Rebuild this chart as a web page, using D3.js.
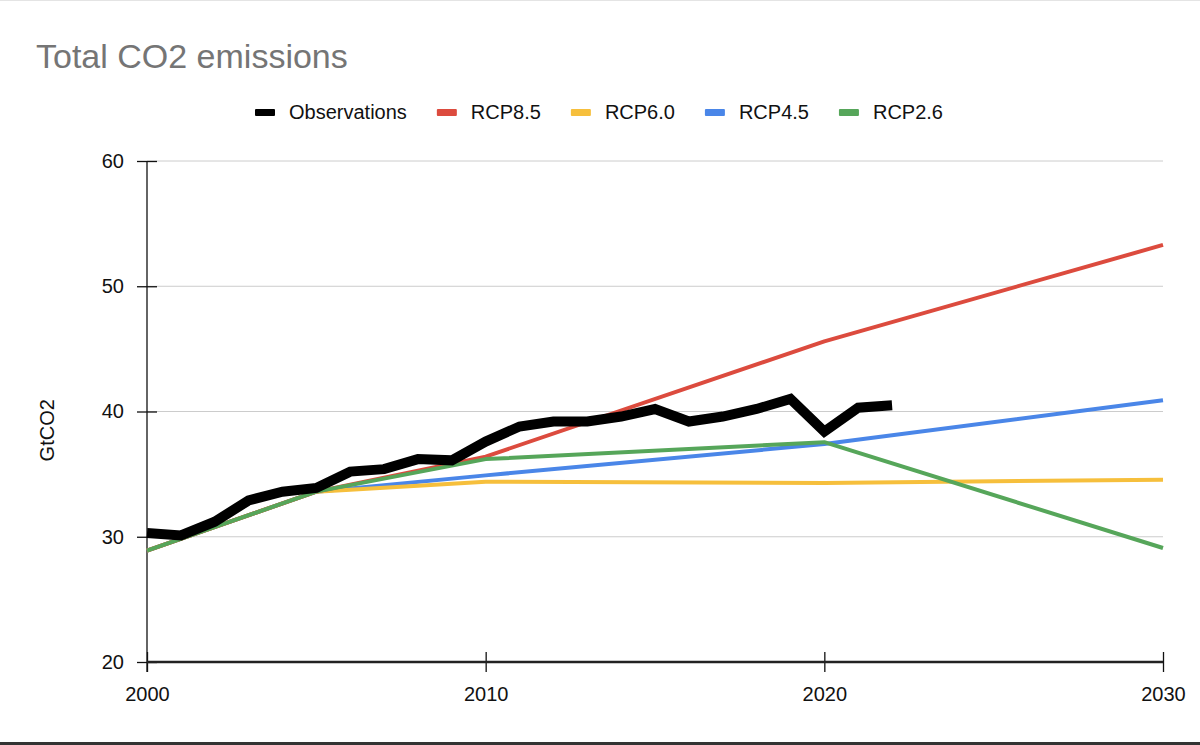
<!DOCTYPE html>
<html>
<head>
<meta charset="utf-8">
<script src="https://cdn.jsdelivr.net/npm/d3@7"></script>
<style>
	body { margin: 0; background: #fff; }
	svg { display: block; font-family: Arial, "Liberation Sans", sans-serif; }
</style>
</head>
<body>
<svg width="1200" height="745"></svg>
<script>
// observed emissions, GtCO2 per year
const obsYears = [ 2000, 2001, 2002, 2003, 2004, 2005, 2006, 2007, 2008, 2009, 2010, 2011,
	2012, 2013, 2014, 2015, 2016, 2017, 2018, 2019, 2020, 2021, 2022 ];
const obsValues = [ 30.3, 30.1, 31.2, 32.9, 33.6, 33.9, 35.2, 35.4, 36.2, 36.1, 37.6, 38.8,
	39.2, 39.2, 39.6, 40.2, 39.2, 39.6, 40.2, 41.0, 38.4, 40.3, 40.5 ];

// scenario pathways
const rcpYears = [ 2000, 2005, 2010, 2020, 2030 ];
const rcp85 = [ 28.9, 33.6, 36.4, 45.6, 53.3 ];
const rcp60 = [ 28.9, 33.6, 34.4, 34.3, 34.55 ];
const rcp45 = [ 28.9, 33.6, 34.9, 37.4, 40.9 ];
const rcp26 = [ 28.9, 33.6, 36.2, 37.55, 29.1 ];

const seriesNames = [ "Observations", "RCP8.5", "RCP6.0", "RCP4.5", "RCP2.6" ];
const seriesColors = [ "#000000", "#dc4b3e", "#f6bf3c", "#4a86e8", "#56a65a" ];
const xTicks = [ 2000, 2010, 2020, 2030 ];
const yTicks = [ 20, 30, 40, 50, 60 ];

const svg = d3.select( "svg" );
const margin = { top: 161, left: 147, right: 37, bottom: 83 };
const W = 1200 - margin.left - margin.right,
	H = 745 - margin.top - margin.bottom;
const FONT = "Arial, Liberation Sans, sans-serif";

// frame of the screenshot
svg.append( "line" ).attr( "x1", 0 ).attr( "x2", 1200 ).attr( "y1", 0.5 ).attr( "y2", 0.5 )
	.attr( "stroke", "#e4e4e4" );
svg.append( "line" ).attr( "x1", 0 ).attr( "x2", 1200 ).attr( "y1", 743.5 ).attr( "y2", 743.5 )
	.attr( "stroke", "#333" ).attr( "stroke-width", 3 );

svg.append( "text" )
	.attr( "x", 36 ).attr( "y", 68 )
	.attr( "font-size", 34 ).attr( "fill", "#757575" )
	.text( "Total CO2 emissions" );

const g = svg.append( "g" ).attr( "transform", "translate(" + margin.left + "," + margin.top + ")" );

const x = d3.scaleLinear().domain( [ 2000, 2030 ] ).range( [ 0, W ] );
const y = d3.scaleLinear().domain( [ 20, 60 ] ).range( [ H, 0 ] );

// gridlines
g.append( "g" )
	.selectAll( "line" )
	.data( yTicks.filter( t => t > 20 ) )
	.enter().append( "line" )
	.attr( "x1", 0 ).attr( "x2", W )
	.attr( "y1", d => y( d ) ).attr( "y2", d => y( d ) )
	.attr( "stroke", "#cccccc" ).attr( "stroke-width", 1 );

// y axis
const axisy = d3.axisLeft( y ).tickValues( yTicks ).tickSize( 0 ).tickPadding( 23 );
const gy = g.append( "g" ).attr( "class", "axis axis--y" ).call( axisy );
gy.select( ".domain" ).remove();
gy.selectAll( "text" ).attr( "font-size", 20 ).attr( "fill", "#111" ).attr( "font-family", FONT );
gy.selectAll( ".tick" ).append( "line" )
	.attr( "x1", -10 ).attr( "x2", 10 ).attr( "stroke", "#111" ).attr( "stroke-width", 1.3 );
g.append( "line" ).attr( "x1", 0 ).attr( "x2", 0 ).attr( "y1", 0 ).attr( "y2", H + 10 )
	.attr( "stroke", "#111" ).attr( "stroke-width", 1.3 );

// x axis
const axisx = d3.axisBottom( x ).tickValues( xTicks ).tickFormat( d3.format( "d" ) ).tickSize( 0 ).tickPadding( 25 );
const gx = g.append( "g" ).attr( "class", "axis axis--x" )
	.attr( "transform", "translate(0," + H + ")" ).call( axisx );
gx.select( ".domain" ).remove();
gx.selectAll( "text" ).attr( "font-size", 20 ).attr( "fill", "#111" ).attr( "font-family", FONT );
gx.selectAll( ".tick" ).append( "line" )
	.attr( "y1", -10 ).attr( "y2", 10 ).attr( "stroke", "#111" ).attr( "stroke-width", 1.3 );
g.append( "line" ).attr( "x1", 0 ).attr( "x2", W ).attr( "y1", H ).attr( "y2", H )
	.attr( "stroke", "#222" ).attr( "stroke-width", 2.5 );

svg.append( "text" )
	.attr( "transform", "translate(54," + ( margin.top + y( 38.5 ) ) + ") rotate(-90)" )
	.attr( "text-anchor", "middle" )
	.attr( "font-size", 20 ).attr( "fill", "#111" )
	.text( "GtCO2" );

// lines
const line = d3.line().x( d => x( d.ax ) ).y( d => y( d.ay ) );
const pairs = ( xs, ys ) => xs.map( ( v, i ) => ( { ax: v, ay: ys[ i ] } ) );

const rcpData = [ rcp85, rcp60, rcp45, rcp26 ];
// green goes last so it sits on top where the scenarios share a start
[ 2, 1, 0, 3 ].forEach( k => {
	g.append( "path" )
		.attr( "d", line( pairs( rcpYears, rcpData[ k ] ) ) )
		.attr( "fill", "none" )
		.attr( "stroke", seriesColors[ k + 1 ] )
		.attr( "stroke-width", 4 )
		.attr( "stroke-linejoin", "round" );
});

g.append( "path" )
	.attr( "d", line( pairs( obsYears, obsValues ) ) )
	.attr( "fill", "none" )
	.attr( "stroke", seriesColors[ 0 ] )
	.attr( "stroke-width", 10 )
	.attr( "stroke-linejoin", "miter" );

// legend: items laid out one after the other, 30px apart
const legend = svg.append( "g" ).attr( "transform", "translate(255,112)" );
let lx = 0;
seriesNames.forEach( ( name, i ) => {
	let item = legend.append( "g" ).attr( "transform", "translate(" + lx + ",0)" );
	item.append( "rect" )
		.attr( "x", 0 ).attr( "y", -3 ).attr( "width", 20 ).attr( "height", 7 ).attr( "rx", 1 )
		.attr( "fill", seriesColors[ i ] );
	let t = item.append( "text" )
		.attr( "x", 34 ).attr( "dy", "0.35em" )
		.attr( "font-size", 20 ).attr( "fill", "#111" )
		.text( name );
	lx += 34 + t.node().getComputedTextLength() + 30;
});
</script>
</body>
</html>
